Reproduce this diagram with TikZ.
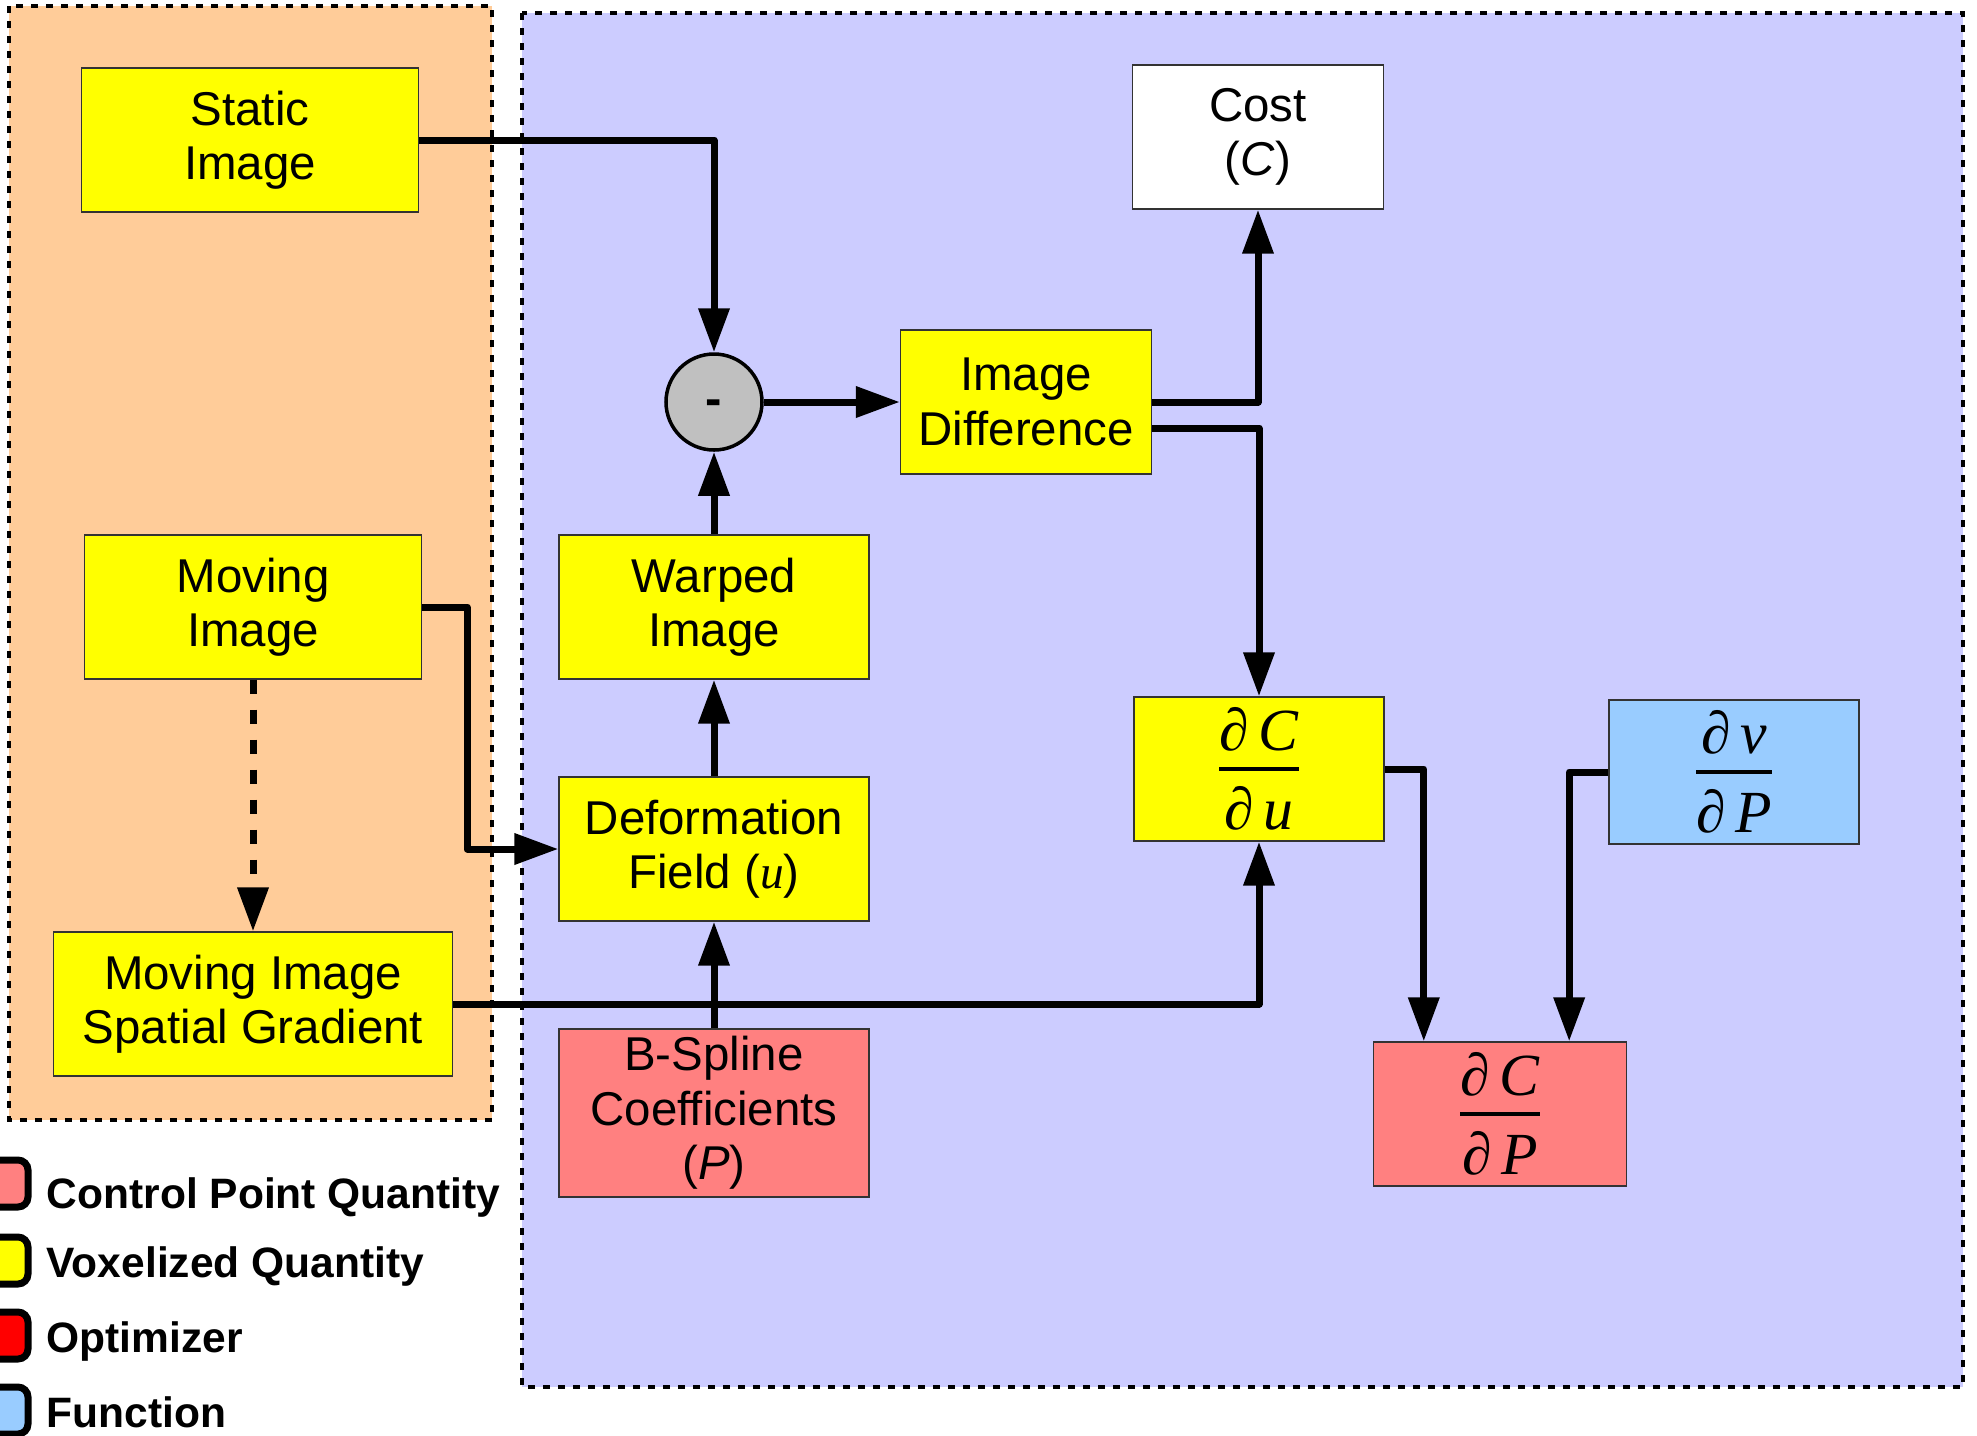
\documentclass[tikz,border=0pt]{standalone}
\usepackage{amsmath}
\usepackage{fontspec}
\setmainfont{Liberation Sans}
\newfontfamily\tmsfont{Liberation Serif}
\usetikzlibrary{arrows.meta,positioning}
\definecolor{inbg}{HTML}{FFCC99}
\definecolor{regbg}{HTML}{CCCCFF}
\definecolor{vox}{HTML}{FFFF00}
\definecolor{cpq}{HTML}{FF8080}
\definecolor{fun}{HTML}{99CCFF}
\definecolor{opt}{HTML}{FF0000}
\definecolor{sub}{HTML}{C0C0C0}
\newcommand{\tmsit}[1]{{\tmsfont\itshape #1}}
\newcommand{\pfrac}[2]{$\genfrac{}{}{1.1pt}{1}%
  {\mbox{\rule[-1.3mm]{0pt}{0pt}\tmsfont\itshape ∂\,#1}}%
  {\mbox{\rule{0pt}{5.5mm}\tmsfont\itshape ∂\,#2}}$}

\begin{document}
\begin{tikzpicture}[x=0.1mm, y=-0.1mm,
  box/.style={draw=black!80, line width=0.4pt, fill=#1, minimum height=14.4mm,
              align=center, inner sep=2pt, font=\fontsize{13.5}{15.5}\selectfont},
  fracbox/.style={box=#1, font=\fontsize{17}{20}\selectfont},
  flow/.style={-{Triangle[length=4.4mm, width=3mm]}, line width=0.7mm, line join=round},
  region/.style={draw=black, line width=0.4mm, dash pattern=on 0.7mm off 0.8mm, fill=#1},
  key/.style={draw=black, line width=0.7mm, rounded corners=1mm, fill=#1},
  keytext/.style={anchor=base west, inner sep=0pt, font=\fontsize{12.1}{14}\selectfont\bfseries},
]
  \clip (0,0) rectangle (1977,1435);

  % input images and registration part
  \draw[region=inbg]  (9,6) rectangle (492,1120);
  \draw[region=regbg] (522,13) rectangle (1963,1387);

  \node[box=vox, minimum width=33.7mm] (static) at (250,140)  {Static\\Image};
  \node[box=vox, minimum width=33.7mm] (moving) at (253,607)  {Moving\\Image};
  \node[box=vox, minimum width=39.9mm] (grad)   at (253,1004) {Moving Image\\Spatial Gradient};

  \node[circle, draw=black, line width=1pt, fill=sub, minimum size=9.6mm,
        font=\fontsize{14}{15}\selectfont\bfseries] (minus) at (714,402)
    {\raisebox{-0.5ex}[0pt][0pt]{-}};
  \node[box=vox, minimum width=25.1mm] (imgdiff) at (1026,402) {Image\\Difference};
  \node[box=white, minimum width=25.1mm] (cost) at (1258,137) {Cost\\(\textit{C})};
  \node[box=vox, minimum width=31mm] (warped) at (714,607) {Warped\\Image};
  \node[box=vox, minimum width=31mm] (deform) at (714,849) {Deformation\\Field (\tmsit{u})};
  \node[box=cpq, minimum width=31mm, minimum height=16.8mm] (bspline) at (714,1113)
    {B-Spline\\Coefficients\\(\textit{P})};

  \node[fracbox=vox, minimum width=25mm]   (dcdu) at (1259,769)  {\pfrac{C}{u}};
  \node[fracbox=fun, minimum width=25mm]   (dvdp) at (1734,772)  {\pfrac{v}{P}};
  \node[fracbox=cpq, minimum width=25.3mm] (dcdp) at (1500,1114) {\pfrac{C}{P}};

  % forward pass
  \draw[flow] (static.east) -| (minus.north);
  \draw[flow] (moving.east) -- ++(45,0) |- (deform.west);
  \draw[flow, dash pattern=on 1.4mm off 1.6mm] (moving) -- (grad);
  \draw[flow] (bspline) -- (deform);
  \draw[flow] (deform) -- (warped);
  \draw[flow] (warped) -- (minus);
  \draw[flow] (minus) -- (imgdiff);
  \draw[flow] (imgdiff.east) -| (cost.south);

  % gradient
  \draw[flow] ([yshift=-2.6mm]imgdiff.east) -| (dcdu.north);
  \draw[flow] (grad.east) -| (dcdu.south);
  \draw[flow] (dcdu.east) -| ([xshift=5.1mm]dcdp.north west);
  \draw[flow] (dvdp.west) -| ([xshift=-5.8mm]dcdp.north east);

  % legend
  \draw[key=cpq] (-20,1160) rectangle (28,1207);
  \draw[key=vox] (-20,1237) rectangle (28,1284);
  \draw[key=opt] (-20,1312) rectangle (28,1359);
  \draw[key=fun] (-20,1387) rectangle (28,1434);
  \node[keytext] (lcpq) at (46,1208) {Control Point Quantity};
  \node[keytext] (lvox) at (46,1277) {Voxelized Quantity};
  \node[keytext] (lopt) at (46,1352) {Optimizer};
  \node[keytext] (lfun) at (46,1427) {Function};
\end{tikzpicture}
\end{document}
